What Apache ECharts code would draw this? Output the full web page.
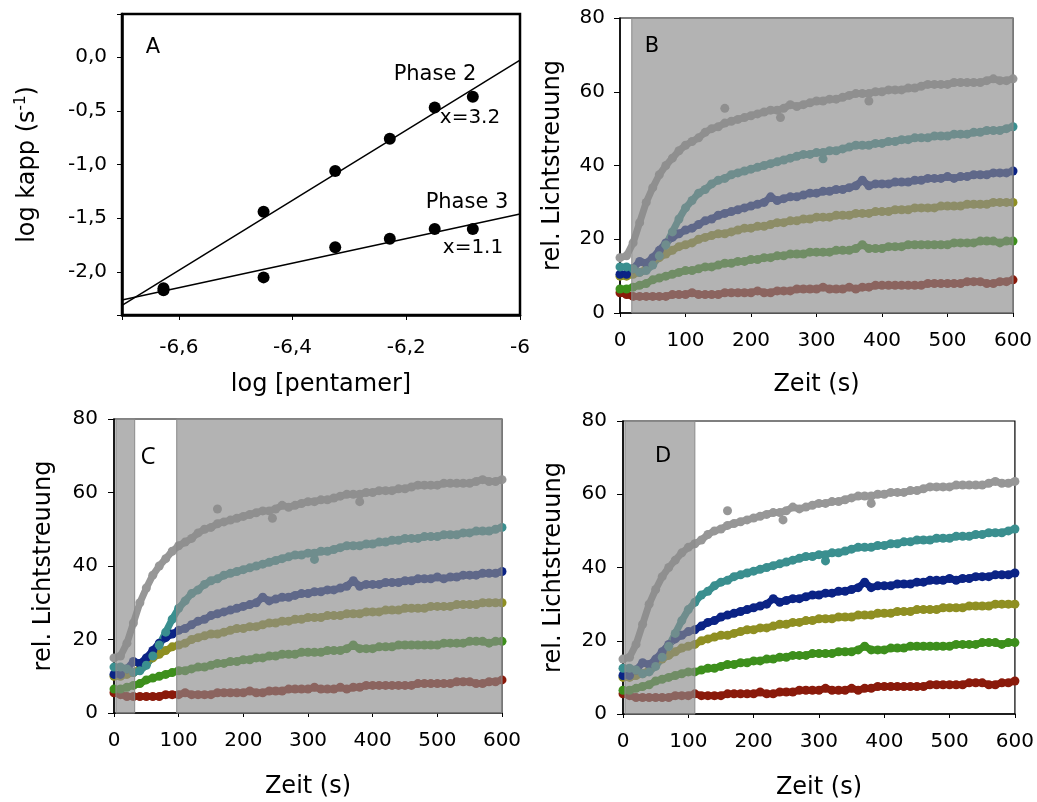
<!DOCTYPE html>
<html><head><meta charset="utf-8">
<script src="https://cdn.jsdelivr.net/npm/echarts@6/dist/echarts.min.js"></script>
<style>html,body{margin:0;padding:0;background:#fff}#c{width:1037px;height:802px}</style>
</head><body><div id="c"></div>
<script>
// ---- Panel A data ----
const logPentamer = [-6.627, -6.451, -6.325, -6.229, -6.150, -6.083];
const phase2 = [-2.15, -1.44, -1.06, -0.76, -0.47, -0.37];
const phase3 = [-2.17, -2.05, -1.77, -1.69, -1.60, -1.60];
const fitX = [-6.7, -6.0];
const fit2 = [-2.31, -0.03];
const fit3 = [-2.26, -1.46];

// ---- Panels B-D data (time in s) ----
const time = [0,10,20,30,40,50,60,70,80,90,100,110,120,130,140,150,160,170,180,190,200,210,220,230,240,250,260,270,280,290,300,310,320,330,340,350,360,370,380,390,400,410,420,430,440,450,460,470,480,490,500,510,520,530,540,550,560,570,580,590,600];
const grayCurve = [15,15.5,19,24.5,30,34,37.5,40,42,44,45.5,46.5,47.5,49,50,50.5,51.5,52,52.5,53,53.5,54,54.5,55,55,55.5,56.5,56,56.5,57,57.5,57.5,58,58,58.5,59,59.5,59.5,59.5,60,60,60.5,60.5,60.5,61,61,61.5,62,62,62,62,62.5,62.5,62.5,62.5,62.5,63,63.5,63,63,63.5];
const tealCurve = [12.5,12.5,12,11,11.5,13,15.5,18.5,22,25.5,28.5,30.5,32.5,33.5,35,36,36.5,37.5,38,38.5,39,39.5,40,40.5,41,41.5,42,42.5,43,43,43.5,43.5,44,44,44.5,45,45.5,45.5,45.5,46,46,46.5,46.5,47,47,47.5,47.5,47.5,48,48,48,48.5,48.5,48.5,49,49,49.5,49.5,49.5,50,50.5];
const blueCurve = [10.5,10.5,12,14,13.5,15,17,19,20.5,21.5,22.5,23,24,25,25.5,26.5,27,27.5,28,28.5,29,29.5,30,31.5,30.5,31,31.5,31.5,32,32.5,32.5,33,33,33.5,33.5,34,34.5,36,34.5,35,35,35,35.5,35.5,35.5,36,36,36.5,36.5,36.5,37,36.5,37,37,37.5,37.5,37.5,38,38,38,38.5];
const oliveCurve = [10,10,10.5,11,12,13.5,15,16,17,18,18.5,19,20,20.5,21,21.5,21.5,22,22.5,23,23,23.5,23.5,24,24.5,24.5,25,25,25.5,25.5,26,26,26,26.5,26.5,26.5,27,27,27,27.5,27.5,27.5,28,28,28,28.5,28.5,28.5,28.5,29,29,29,29,29.5,29.5,29.5,29.5,30,30,30,30];
const greenCurve = [6.5,6.5,7,7.5,8,9,9.5,10,10.5,11,11.5,11.5,12,12.5,12.5,13,13.5,13.5,14,14,14.5,14.5,15,15,15.5,15.5,16,16,16,16.5,16.5,16.5,16.5,17,17,17,17.5,18.5,17.5,17.5,17.5,18,18,18,18.5,18.5,18.5,18.5,18.5,18.5,18.5,19,19,19,19,19.5,19.5,19.5,19,19.5,19.5];
const redCurve = [5.5,5,4.5,4.5,4.5,4.5,4.5,4.5,5,5,5,5.5,5,5,5,5,5.5,5.5,5.5,5.5,5.5,6,5.5,5.5,6,6,6,6.5,6.5,6.5,6.5,7,6.5,6.5,6.5,7,6.5,7,7,7.5,7.5,7.5,7.5,7.5,7.5,7.5,7.5,8,8,8,8,8,8,8.5,8.5,8.5,8,8,8.5,8.5,9];
const grayOutliers = [[160, 55.5], [245, 53], [380, 57.5]];
const tealOutliers = [[310, 41.8]];
// shaded time windows (s)
const shadeB = [[18, 600]];
const shadeC = [[3, 32], [97, 600]];
const shadeD = [[3, 110]];

const FONT = 'DejaVu Sans';
const chart = echarts.init(document.getElementById('c'), null, {renderer: 'canvas'});

const grids = [
  {left: 122, top: 14, width: 398, height: 301, show: true, borderColor: '#000', borderWidth: 2.5, backgroundColor: 'transparent'},
  {left: 620, top: 18, width: 393, height: 295, show: true, borderColor: '#000', borderWidth: 1.2, backgroundColor: 'transparent'},
  {left: 114, top: 419, width: 388, height: 294, show: true, borderColor: '#000', borderWidth: 1.2, backgroundColor: 'transparent'},
  {left: 623, top: 421, width: 394, height: 293, show: true, borderColor: '#000', borderWidth: 1.2, backgroundColor: 'transparent'}
];

const labelStyle = {color: '#000', fontFamily: FONT, fontSize: 20};
const nameStyle = {color: '#000', fontFamily: FONT, fontSize: 24};

const xAxes = [
  {gridIndex: 0, type: 'value', min: -6.7, max: -6.0, splitNumber: 3,
   axisLine: {show: true, onZero: false, lineStyle: {color: '#000', width: 2.5}},
   axisTick: {show: true, length: 5, lineStyle: {color: '#000', width: 1}},
   splitLine: {show: false},
   axisLabel: Object.assign({margin: 23, formatter: v => {
     if (Math.abs(v * 5 - Math.round(v * 5)) > 1e-6) return '';
     if (Math.abs(v - Math.round(v)) < 1e-6) return String(Math.round(v));
     return v.toFixed(1).replace('.', ',');
   }}, labelStyle),
   name: 'log [pentamer]', nameLocation: 'middle', nameGap: 58, nameTextStyle: nameStyle}
];
const yAxes = [
  {gridIndex: 0, type: 'value', min: -2.4, max: 0.4, splitNumber: 5,
   axisLine: {show: true, onZero: false, lineStyle: {color: '#000', width: 2.5}},
   axisTick: {show: true, length: 5, lineStyle: {color: '#000', width: 1}},
   splitLine: {show: false},
   axisLabel: Object.assign({margin: 15, formatter: v => {
     if (Math.abs(v * 2 - Math.round(v * 2)) > 1e-6) return '';
     return v.toFixed(1).replace('.', ',');
   }}, labelStyle),
   name: '{n|log kapp (s}{sup|-1}{n|)}', nameLocation: 'middle', nameGap: 80, nameRotate: 90,
   nameTextStyle: {color: '#000', fontFamily: FONT, fontSize: 24,
     rich: {n: {fontFamily: FONT, fontSize: 24, color: '#000', lineHeight: 28},
            sup: {fontFamily: FONT, fontSize: 15, color: '#000', lineHeight: 28, verticalAlign: 'top', padding: [0, 0, 8, 0]}}}}
];
const tLayout = [null,
  {xm: 18, ym: 15, xg: 60, yg: 55},
  {xm: 18, ym: 16, xg: 62, yg: 58},
  {xm: 18, ym: 16, xg: 62, yg: 57}];
for (let g = 1; g <= 3; g++) {
  const L = tLayout[g];
  xAxes.push({gridIndex: g, type: 'value', min: 0, max: 600, interval: 100,
    axisLine: {show: true, onZero: false, lineStyle: {color: '#000', width: 1.5}},
    axisTick: {show: true, length: 4, lineStyle: {color: '#000', width: 1}},
    splitLine: {show: false},
    axisLabel: Object.assign({margin: L.xm}, labelStyle),
    name: 'Zeit (s)', nameLocation: 'middle', nameGap: L.xg, nameTextStyle: nameStyle});
  yAxes.push({gridIndex: g, type: 'value', min: 0, max: 80, interval: 20,
    axisLine: {show: true, onZero: false, lineStyle: {color: '#000', width: 1.5}},
    axisTick: {show: true, length: 6, lineStyle: {color: '#000', width: 1}},
    splitLine: {show: false},
    axisLabel: Object.assign({margin: L.ym}, labelStyle),
    name: 'rel. Lichtstreuung', nameLocation: 'middle', nameGap: L.yg, nameRotate: 90, nameTextStyle: nameStyle});
}

const series = [];
// Panel A
series.push({type: 'line', xAxisIndex: 0, yAxisIndex: 0, data: fitX.map((x, i) => [x, fit2[i]]), symbol: 'none', lineStyle: {color: '#000', width: 1.5}, silent: true, z: 2});
series.push({type: 'line', xAxisIndex: 0, yAxisIndex: 0, data: fitX.map((x, i) => [x, fit3[i]]), symbol: 'none', lineStyle: {color: '#000', width: 1.5}, silent: true, z: 2});
series.push({type: 'scatter', xAxisIndex: 0, yAxisIndex: 0, data: logPentamer.map((x, i) => [x, phase2[i]]), symbolSize: 12, itemStyle: {color: '#000', opacity: 1}, z: 3});
series.push({type: 'scatter', xAxisIndex: 0, yAxisIndex: 0, data: logPentamer.map((x, i) => [x, phase3[i]]), symbolSize: 12, itemStyle: {color: '#000', opacity: 1}, z: 3});

const curves = [
  {data: redCurve, color: '#8a1a0b'},
  {data: greenCurve, color: '#3d8f1c'},
  {data: oliveCurve, color: '#8f8f22'},
  {data: blueCurve, color: '#0b2385'},
  {data: tealCurve, color: '#3a8f8f'},
  {data: grayCurve, color: '#979797'}
];
const shades = [null, shadeB, shadeC, shadeD];
for (let g = 1; g <= 3; g++) {
  curves.forEach(c => {
    series.push({type: 'line', xAxisIndex: g, yAxisIndex: g,
      data: time.map((t, i) => [t, c.data[i]]),
      symbol: 'circle', symbolSize: 9, showSymbol: true, showAllSymbol: true,
      lineStyle: {color: c.color, width: 7}, itemStyle: {color: c.color, opacity: 1}, silent: true});
  });
  series.push({type: 'scatter', xAxisIndex: g, yAxisIndex: g, data: tealOutliers, symbolSize: 9, itemStyle: {color: '#3a8f8f', opacity: 1}, silent: true});
  series.push({type: 'scatter', xAxisIndex: g, yAxisIndex: g, data: grayOutliers, symbolSize: 9, itemStyle: {color: '#979797', opacity: 1}, silent: true,
    markArea: {z: 10, silent: true, itemStyle: {color: 'rgba(140,140,140,0.66)', borderColor: '#8a8a8a', borderWidth: 1},
      label: {show: false},
      data: shades[g].map(s => [{xAxis: s[0], yAxis: 0}, {xAxis: s[1], yAxis: 80}])}});
}

const txt = (x, y, s, size, font, align) => ({type: 'text', x: x, y: y, style: {text: s, fill: '#000', font: size + 'px "' + (font || FONT) + '"', textAlign: align || 'center', textVerticalAlign: 'middle'}, z: 100});

chart.setOption({
  animation: false,
  backgroundColor: '#fff',
  grid: grids,
  xAxis: xAxes,
  yAxis: yAxes,
  series: series,
  graphic: [
    txt(153, 48, 'A', 21),
    txt(435, 75, 'Phase 2', 21),
    txt(470, 118, 'x=3.2', 20),
    txt(467, 203, 'Phase 3', 21),
    txt(473, 248, 'x=1.1', 20),
    txt(652, 47, 'B', 21),
    txt(148, 457, 'C', 24, 'Open Sans'),
    txt(663, 457, 'D', 21)
  ]
});
</script></body></html>
